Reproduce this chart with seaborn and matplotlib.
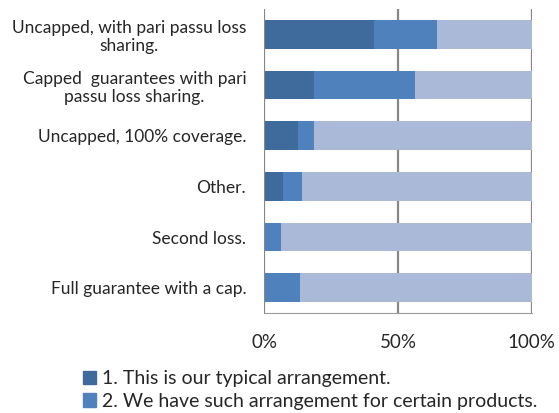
import numpy as np
import pandas as pd
import seaborn as sns
import matplotlib.pyplot as plt
from matplotlib.patches import Patch

sns.set_style('white')
plt.rcParams['font.family'] = ['Lato', 'DejaVu Sans']

categories = ['Uncapped, with pari passu loss\nsharing.',
              'Capped  guarantees with pari\npassu loss sharing.',
              'Uncapped, 100% coverage.',
              'Other.',
              'Second loss.',
              'Full guarantee with a cap.']
typical = [41.2, 18.75, 12.5, 7.1, 0.0, 0.0]
certain = [23.5, 37.5, 6.25, 7.1, 6.25, 13.3]
other = [35.3, 43.75, 81.25, 85.8, 93.75, 86.7]
series_names = ['1. This is our typical arrangement.',
                '2. We have such arrangement for certain products.',
                '3. We do not offer such arrangement.']
colors = ['#3F6A9C', '#4F81BD', '#AAB9D7']

df = pd.DataFrame({'cat': categories, 's1': typical, 's2': certain, 's3': other})
df['c1'] = df['s1']
df['c2'] = df['s1'] + df['s2']
df['c3'] = df['c2'] + df['s3']

fig = plt.figure(figsize=(5.59, 4.13), dpi=100)
ax = fig.add_axes([0.4728, 0.2421, 0.4784, 0.736])

# stacked: draw cumulative totals from the back
for col, c in zip(['c3', 'c2', 'c1'], colors[::-1]):
    sns.barplot(data=df, x=col, y='cat', orient='h', color=c, width=0.57,
                saturation=1, ax=ax, linewidth=0)

ax.set_xlim(0, 100)
ax.set_xticks([0, 50, 100])
ax.set_xticklabels(['0%', '50%', '100%'], fontsize=13.5)
ax.set_xlabel('')
ax.set_ylabel('')
ax.tick_params(axis='x', length=0, pad=15)
ax.tick_params(axis='y', length=0, pad=13, labelsize=12.5)
for lab in ax.get_yticklabels():
    lab.set_multialignment('center')
    lab.set_linespacing(1.2)

ax.grid(False)
for x in [50, 100]:
    ax.axvline(x, color='#878787', lw=1.6, zorder=0)
ax.axvline(0, color='#878787', lw=1.6, zorder=5)
for s in ['top', 'right', 'left']:
    ax.spines[s].set_visible(False)
ax.spines['bottom'].set_color('#9A9A9A')
ax.spines['bottom'].set_linewidth(0.8)

handles = [Patch(color=colors[0]), Patch(color=colors[1])]
fig.legend(handles, series_names[:2], loc='upper left',
           bbox_to_anchor=(0.1485, 0.104), frameon=False, fontsize=14,
           handlelength=0.68, handleheight=0.68, handletextpad=0.3,
           labelspacing=0.3, borderaxespad=0, borderpad=0)

fig.savefig('out.png', dpi=100)
